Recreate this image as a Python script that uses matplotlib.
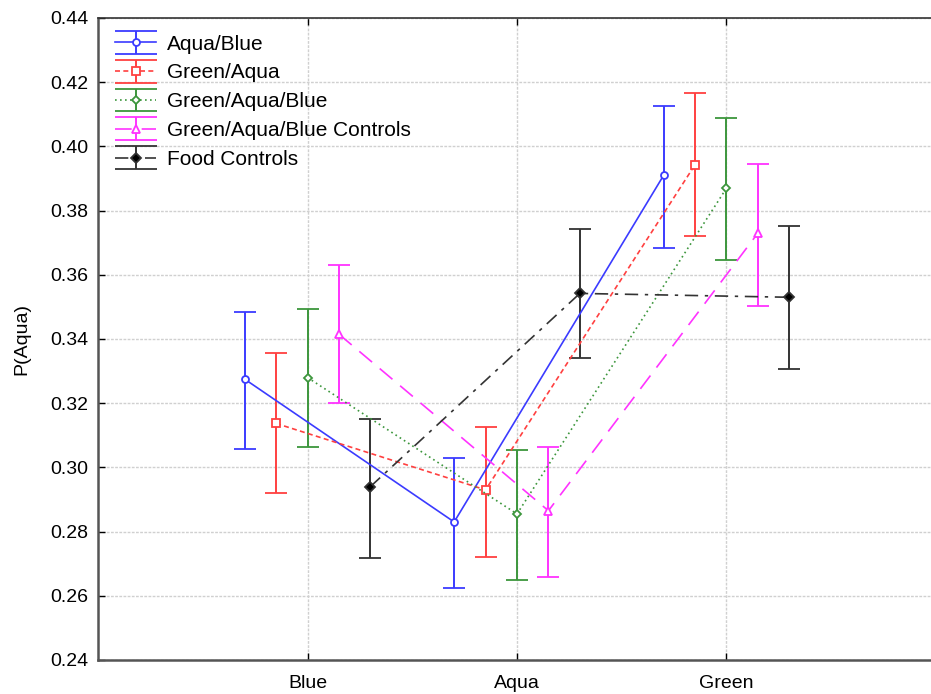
import numpy as np
import matplotlib.pyplot as plt
from matplotlib.lines import Line2D
from matplotlib.legend_handler import HandlerErrorbar

plt.rcParams['font.family'] = ['Liberation Sans', 'DejaVu Sans']

categories = ["Blue", "Aqua", "Green"]
series = ["Aqua/Blue", "Green/Aqua", "Green/Aqua/Blue",
          "Green/Aqua/Blue Controls", "Food Controls"]

# means and error bar ends, per series, in category order
means = [
    [0.3275, 0.2830, 0.3910],
    [0.3137, 0.2930, 0.3943],
    [0.3280, 0.2855, 0.3870],
    [0.3415, 0.2865, 0.3730],
    [0.2940, 0.3542, 0.3530],
]
upper = [
    [0.3485, 0.3030, 0.4125],
    [0.3355, 0.3125, 0.4165],
    [0.3495, 0.3055, 0.4090],
    [0.3630, 0.3065, 0.3945],
    [0.3150, 0.3742, 0.3752],
]
lower = [
    [0.3058, 0.2625, 0.3682],
    [0.2920, 0.2720, 0.3722],
    [0.3065, 0.2650, 0.3645],
    [0.3202, 0.2658, 0.3502],
    [0.2718, 0.3340, 0.3305],
]

colors = ["#3b3bff", "#ff4040", "#3c963c", "#ff33ff", "#333333"]
markers = ["o", "s", "D", "^", "D"]
msizes = [5, 6, 4.5, 6, 5]
faces = ["white", "white", "white", "white", "black"]
styles = ["-", (0, (3, 2)), (0, (1, 2)), (0, (10, 6)), (0, (8, 4, 2, 4))]
offsets = [-0.3, -0.15, 0.0, 0.15, 0.3]

fig = plt.figure(figsize=(9.31, 6.94), dpi=100)
ax = fig.add_axes([98 / 931, 34 / 694, 833 / 931, 642 / 694])

x = np.arange(1, len(categories) + 1)
for i, name in enumerate(series):
    m = np.array(means[i])
    yerr = [m - np.array(lower[i]), np.array(upper[i]) - m]
    ax.errorbar(x + offsets[i], m, yerr=yerr, color=colors[i],
                linestyle=styles[i], linewidth=1.2, elinewidth=1.4,
                capsize=8, capthick=1.4, marker=markers[i],
                markersize=msizes[i], markerfacecolor=faces[i],
                markeredgecolor=colors[i], markeredgewidth=1.3,
                label=name)

ax.set_xlim(0, 833 / 209.5)
ax.set_ylim(0.24, 0.44)
ax.set_xticks(x)
ax.set_xticklabels(categories)
ax.set_yticks(np.arange(0.24, 0.441, 0.02))
ax.set_yticklabels([f"{v:.2f}" for v in np.arange(0.24, 0.441, 0.02)])
ax.set_ylabel("P(Aqua)", fontsize=14, labelpad=14)
ax.tick_params(labelsize=14, direction="in", length=5, top=True, width=1,
               pad=7)
ax.tick_params(axis="x", pad=11)
ax.grid(True, color="#d0d0d0", linestyle=(0, (2, 1)), linewidth=1)
ax.set_axisbelow(True)

ax.spines["right"].set_visible(False)
ax.spines["top"].set_color("#333333")
ax.spines["top"].set_linewidth(1.2)
for s in ["left", "bottom"]:
    ax.spines[s].set_color("#555555")
    ax.spines[s].set_linewidth(1.8)


def wide_caps(legend_handle, orig_handle):
    legend_handle.update_from(orig_handle)
    # legend caps span the whole handle like in the original
    if isinstance(legend_handle, Line2D) and legend_handle.get_marker() == "_":
        legend_handle.set_markersize(30)


handler = HandlerErrorbar(yerr_size=0.55, update_func=wide_caps)
handles, labels = ax.get_legend_handles_labels()
ax.legend(handles, labels, loc="upper left", frameon=False, fontsize=15,
          handlelength=2.0, labelspacing=0.47, borderaxespad=0.4,
          handletextpad=0.5, handler_map={type(handles[0]): handler})

plt.savefig("out.png", dpi=100)
